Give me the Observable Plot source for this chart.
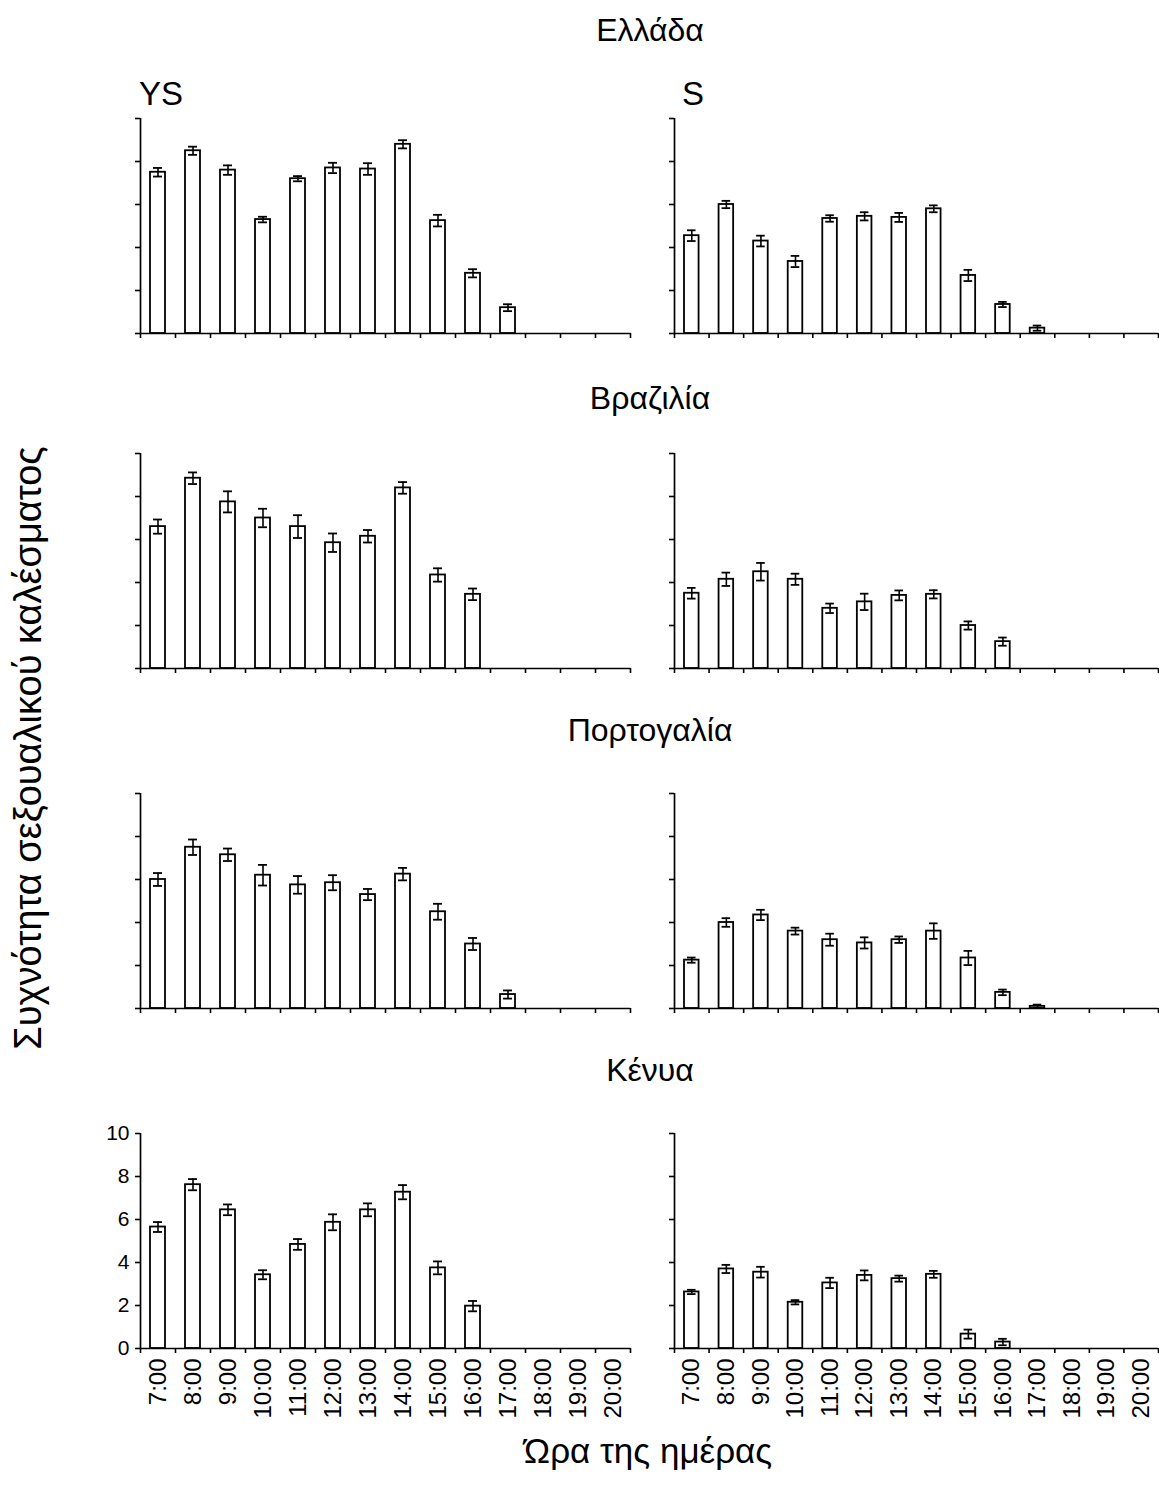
<!DOCTYPE html>
<html>
<head>
<meta charset="utf-8">
<script src="https://cdn.jsdelivr.net/npm/d3@7"></script>
<script src="https://cdn.jsdelivr.net/npm/@observablehq/plot@0.6"></script>
<style>
  html, body { margin: 0; padding: 0; background: #fff; }
  #root { position: relative; width: 1159px; height: 1499px; font-family: Arial, "Liberation Sans", sans-serif; color: #000; }
  .lbl { position: absolute; white-space: nowrap; line-height: 1; }
  .panel { position: absolute; }
</style>
</head>
<body>
<div id="root"></div>
<script>
// ---- data ----
const hours = ["7:00","8:00","9:00","10:00","11:00","12:00","13:00","14:00","15:00","16:00","17:00","18:00","19:00","20:00"];
const yTicks = [0, 2, 4, 6, 8, 10];
const countries = ["Ελλάδα", "Βραζιλία", "Πορτογαλία", "Κένυα"];
const groups = ["YS", "S"];

const greeceYS    = [7.5, 8.5, 7.6, 5.3, 7.2, 7.7, 7.65, 8.8, 5.25, 2.8, 1.2, 0, 0, 0];
const greeceYSErr = [0.2, 0.19, 0.22, 0.13, 0.12, 0.24, 0.27, 0.19, 0.27, 0.19, 0.16, 0, 0, 0];
const greeceS     = [4.55, 6.0, 4.3, 3.35, 5.35, 5.45, 5.4, 5.8, 2.7, 1.35, 0.25, 0, 0, 0];
const greeceSErr  = [0.25, 0.17, 0.25, 0.26, 0.15, 0.19, 0.21, 0.16, 0.26, 0.12, 0.12, 0, 0, 0];

const brazilYS    = [6.6, 8.85, 7.75, 7.0, 6.6, 5.85, 6.15, 8.4, 4.35, 3.45, 0, 0, 0, 0];
const brazilYSErr = [0.33, 0.27, 0.49, 0.43, 0.53, 0.43, 0.29, 0.27, 0.31, 0.27, 0, 0, 0, 0];
const brazilS     = [3.5, 4.15, 4.5, 4.15, 2.8, 3.1, 3.4, 3.45, 2.0, 1.25, 0, 0, 0, 0];
const brazilSErr  = [0.25, 0.31, 0.41, 0.26, 0.22, 0.38, 0.23, 0.19, 0.19, 0.19, 0, 0, 0, 0];

const portugalYS    = [6.0, 7.5, 7.15, 6.2, 5.75, 5.85, 5.3, 6.25, 4.5, 3.0, 0.65, 0, 0, 0];
const portugalYSErr = [0.3, 0.36, 0.29, 0.48, 0.41, 0.35, 0.26, 0.29, 0.37, 0.28, 0.19, 0, 0, 0];
const portugalS     = [2.25, 4.0, 4.35, 3.6, 3.2, 3.05, 3.2, 3.6, 2.35, 0.75, 0.1, 0, 0, 0];
const portugalSErr  = [0.12, 0.2, 0.24, 0.16, 0.28, 0.26, 0.15, 0.36, 0.33, 0.13, 0.08, 0, 0, 0];

const kenyaYS    = [5.65, 7.62, 6.45, 3.43, 4.84, 5.87, 6.45, 7.27, 3.75, 1.97, 0, 0, 0, 0];
const kenyaYSErr = [0.23, 0.26, 0.25, 0.21, 0.25, 0.37, 0.3, 0.33, 0.3, 0.24, 0, 0, 0, 0];
const kenyaS     = [2.63, 3.7, 3.55, 2.15, 3.05, 3.4, 3.25, 3.45, 0.67, 0.3, 0, 0, 0, 0];
const kenyaSErr  = [0.1, 0.19, 0.25, 0.1, 0.24, 0.23, 0.14, 0.16, 0.21, 0.15, 0, 0, 0, 0];

const yTitle = "Συχνότητα σεξουαλικού καλέσματος";
const xTitle = "Ώρα της ημέρας";

// ---- layout ----
const root = document.getElementById("root");
const FONT = 'Arial, "Liberation Sans", sans-serif';
const n = hours.length;

function addLabel(text, css) {
  const d = document.createElement("div");
  d.className = "lbl";
  d.textContent = text;
  Object.assign(d.style, css);
  root.appendChild(d);
}

function panel(values, errs, opt) {
  const rows = values.map((v, i) => ({i, v, e: errs[i]}));
  const withErr = rows.filter(d => d.e > 0);
  const bottom = opt.bottom;
  const marks = [
    Plot.axisY({ticks: yTicks, tickSize: 5, tickPadding: 6, strokeWidth: 1.6, label: null,
      tickFormat: opt.yLabels ? (d => String(d)) : (() => ""), fontSize: 21}),
    Plot.axisX({ticks: d3.range(n + 1), tickSize: 5, strokeWidth: 1.6, label: null, tickFormat: () => ""}),
    Plot.rectY(rows, {x1: "i", x2: d => d.i + 1, y: "v", fill: "white", stroke: "black",
      strokeWidth: 1.8, insetLeft: 10, insetRight: 10}),
    Plot.ruleX(withErr, {x: d => d.i + 0.5, y1: d => d.v - d.e, y2: d => d.v + d.e, stroke: "black", strokeWidth: 1.6}),
    Plot.ruleY(withErr, {y: d => d.v + d.e, x1: "i", x2: d => d.i + 1, insetLeft: 13, insetRight: 13, stroke: "black", strokeWidth: 1.8}),
    Plot.ruleY(withErr, {y: d => d.v - d.e, x1: "i", x2: d => d.i + 1, insetLeft: 13, insetRight: 13, stroke: "black", strokeWidth: 1.8}),
    Plot.ruleX([0], {stroke: "black", strokeWidth: 1.7}),
    Plot.ruleY([0], {stroke: "black", strokeWidth: 1.7})
  ];
  if (bottom) {
    marks.push(Plot.axisX({ticks: d3.range(n).map(i => i + 0.5), tickSize: 0, tickPadding: 10, label: null,
      tickRotate: -90, tickFormat: t => hours[Math.floor(t)], fontSize: 24}));
  }
  const svg = Plot.plot({
    width: opt.width,
    height: 10 + 215 + (bottom ? 100 : 20),
    marginTop: 10,
    marginBottom: bottom ? 100 : 20,
    marginLeft: opt.marginLeft,
    marginRight: opt.marginRight,
    x: {type: "linear", domain: [0, n], axis: null},
    y: {domain: [0, 10], axis: null},
    style: {fontFamily: FONT, fontSize: "20px", color: "black", background: "transparent", overflow: "visible"},
    marks
  });
  const wrap = document.createElement("div");
  wrap.className = "panel";
  wrap.style.left = opt.left + "px";
  wrap.style.top = opt.top + "px";
  wrap.appendChild(svg);
  root.appendChild(wrap);
}

const data = [
  [[greeceYS, greeceYSErr], [greeceS, greeceSErr]],
  [[brazilYS, brazilYSErr], [brazilS, brazilSErr]],
  [[portugalYS, portugalYSErr], [portugalS, portugalSErr]],
  [[kenyaYS, kenyaYSErr], [kenyaS, kenyaSErr]]
];
const rowTops = [108, 443, 783, 1123];
const titleY = [30, 398, 730, 1070];

data.forEach((row, r) => {
  const bottom = r === 3;
  panel(row[0][0], row[0][1], {left: 0, top: rowTops[r], width: 642, marginLeft: 140, marginRight: 12,
    bottom, yLabels: bottom});
  panel(row[1][0], row[1][1], {left: 640, top: rowTops[r], width: 519, marginLeft: 34, marginRight: 1,
    bottom, yLabels: false});
  addLabel(countries[r], {left: "650px", top: titleY[r] + "px", transform: "translate(-50%, -50%)", fontSize: "32px"});
});

addLabel(groups[0], {left: "139px", top: "93px", fontSize: "33px", transform: "translateY(-50%)"});
addLabel(groups[1], {left: "682px", top: "93px", fontSize: "33px", transform: "translateY(-50%)"});
addLabel(yTitle, {left: "28px", top: "748px", fontSize: "38px", transform: "translate(-50%, -50%) rotate(-90deg)"});
addLabel(xTitle, {left: "648px", top: "1450px", fontSize: "35px", transform: "translate(-50%, -50%)"});
</script>
</body>
</html>
